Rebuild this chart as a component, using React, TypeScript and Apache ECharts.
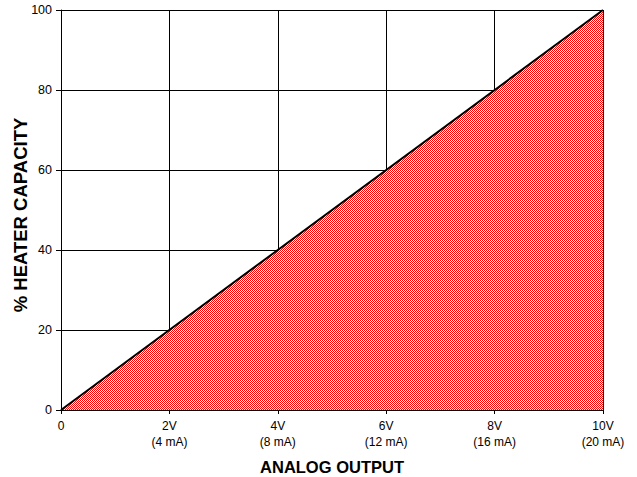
import React, { useEffect, useRef } from "react";
import * as echarts from "echarts";

const outputVolts = [0, 10];
const heaterCapacity = [0, 100];
const xTickValues = [0, 2, 4, 6, 8, 10];
const xTickLabels = ["0", "2V\n(4 mA)", "4V\n(8 mA)", "6V\n(12 mA)", "8V\n(16 mA)", "10V\n(20 mA)"];

function makePattern(): string {
  const c = document.createElement("canvas");
  c.width = 2;
  c.height = 2;
  const ctx = c.getContext("2d")!;
  ctx.fillStyle = "#ffffff";
  ctx.fillRect(0, 0, 2, 2);
  ctx.fillStyle = "#ff0000";
  ctx.fillRect(0, 0, 1, 1);
  ctx.fillRect(1, 1, 1, 1);
  return c.toDataURL();
}

export default function App() {
  const ref = useRef<HTMLDivElement>(null);
  useEffect(() => {
    if (!ref.current) return;
    const chart = echarts.init(ref.current, null, { renderer: "svg" });
    const img = new Image();
    img.src = makePattern();
    const font = "'Liberation Sans', Arial, sans-serif";
    const build = () => {
      chart.setOption({
        animation: false,
        backgroundColor: "#ffffff",
        grid: { left: 61, right: 34, top: 10, bottom: 67, containLabel: false, outerBoundsMode: "none" },
        xAxis: {
          type: "value",
          min: 0,
          max: 10,
          interval: 2,
          name: "ANALOG OUTPUT",
          nameLocation: "middle",
          nameGap: 48,
          nameMoveOverlap: false,
          nameTextStyle: { fontFamily: font, fontWeight: "bold", fontSize: 16.5, color: "#000" },
          axisLine: { show: true, lineStyle: { color: "#000", width: 1 } },
          axisTick: { show: true, length: 4, lineStyle: { color: "#000" } },
          splitLine: { show: true, lineStyle: { color: "#000", width: 1 } },
          axisLabel: {
            fontFamily: font,
            fontSize: 12,
            color: "#000",
            lineHeight: 16,
            margin: 8,
            formatter: (v: number) => {
              const i = xTickValues.indexOf(v);
              return i >= 0 ? xTickLabels[i] : "";
            },
          },
        },
        yAxis: {
          type: "value",
          min: 0,
          max: 100,
          interval: 20,
          name: "% HEATER CAPACITY",
          nameLocation: "middle",
          nameGap: 31,
          nameMoveOverlap: false,
          nameTextStyle: { fontFamily: font, fontWeight: "bold", fontSize: 18.5, color: "#000", padding: [0, 10, 0, 0] },
          axisLine: { show: true, lineStyle: { color: "#000", width: 1 } },
          axisTick: { show: true, length: 5, lineStyle: { color: "#000" } },
          splitLine: { show: true, lineStyle: { color: "#000", width: 1 } },
          axisLabel: { fontFamily: font, fontSize: 12.5, color: "#000", margin: 9 },
        },
        series: [
          {
            type: "line",
            data: outputVolts.map((x, i) => [x, heaterCapacity[i]]),
            symbol: "none",
            lineStyle: { color: "#000", width: 2 },
            areaStyle: { color: { image: img, repeat: "repeat" } as any, opacity: 1 },
            z: 3,
          },
        ],
      });
    };
    if (img.complete) build();
    else img.onload = build;
    build();
    return () => chart.dispose();
  }, []);
  return <div ref={ref} style={{ position: "fixed", left: 0, top: 0, width: 637, height: 477 }} />;
}
